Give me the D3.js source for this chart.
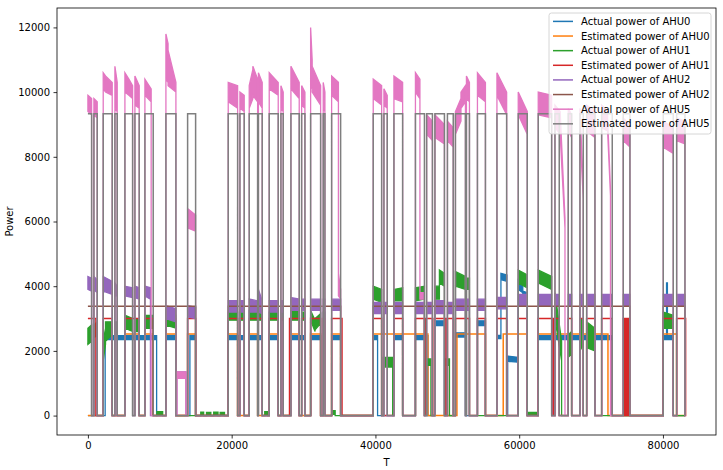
<!DOCTYPE html>
<html><head><meta charset="utf-8">
<script src="https://cdn.jsdelivr.net/npm/d3@7"></script>
<style>body{margin:0;background:#fff}text{font-family:"DejaVu Sans",sans-serif;fill:#000}</style>
</head><body><svg id="c" width="723" height="470"></svg>
<script>
// ---------- data ----------
const xTicks = [0, 20000, 40000, 60000, 80000];
const yTicks = [0, 2000, 4000, 6000, 8000, 10000, 12000];
const seriesNames = ["Actual power of AHU0","Estimated power of AHU0","Actual power of AHU1","Estimated power of AHU1",
  "Actual power of AHU2","Estimated power of AHU2","Actual power of AHU5","Estimated power of AHU5"];
const seriesColors = ["#1f77b4","#ff7f0e","#2ca02c","#d62728","#9467bd","#8c564b","#e377c2","#7f7f7f"];
const tEnd = 83100;

// estimated power levels (when on)
const est0Level = 2520, est1Level = 3000, est2Level = 3380, est5Level = 9330;

// estimated on-intervals [start, end]
const est5On = [[0,515],[835,1294],[2129,3381],[3757,4077],[5148,6219],[6539,7137],[7930,9085],[10852,12243],[13871,14984],
  [19520,20828],[21148,21746],[22442,23610],[23722,24250],[25224,26476],[26852,27172],[28243,29398],[29733,30191],[30984,32375],
  [32737,32974],[33906,35158],[39694,40862],[41182,41642],[42574,43784],[45565,46817],[47123,47930],[48278,49600],[50017,50824],
  [51130,52522],[52661,53078],[54191,55304],[56904,58254],[59868,61120],[62650,64515],[64974,65572],[66824,67297],[68452,68911],
  [69385,70539],[71471,72946],[74476,75408],[80041,81433],[81906,83061]];
const est2On = [[0,14984],[19520,35158],[39694,75408],[80041,83061]];
const est1On = [[0,1113],[2129,3381],[5148,7137],[7930,9085],[10852,12243],[13871,14984],[19520,20828],[21148,21746],[22442,24250],
  [25224,26476],[26852,27172],[28050,29398],[29733,30191],[30984,32375],[32737,32974],[33906,35350],[39694,40862],[42574,43784],
  [45565,46817],[46950,47930],[48200,49800],[50017,50824],[51130,53078],[54191,55304],[56904,58254],[59868,61120],[62600,64580],
  [64620,64660],[64700,64740],[64780,64820],[64860,64900],[64940,64980],[65020,65572],[66824,67297],[68452,68911],[69385,70539],
  [71471,72946],[74476,74520],[74560,74600],[74640,74680],[74720,74760],[74800,74840],[74880,74920],[74960,75000],[75040,75080],
  [75120,75160],[75200,75240],[75280,75320],[75360,75408],[80041,81433],[81906,83150]];
const est0On = [[2129,3381],[5148,7137],[7930,9085],[10852,12243],[13871,14984],[19520,20828],[22442,23610],[25224,26476],
  [28243,29398],[30984,32375],[33906,35158],[39694,47300],[51340,55304],[57780,61120],[62650,72350],[80041,81900]];

// actual power: segments [tStart, tEnd, lowStart, highStart, lowEnd, highEnd] (noise envelope)
const act5 = [[0,515,9400,9900,9300,9800],[835,1294,9300,9800,9200,9700],[2129,2450,10100,10600,10000,10500],
  [2450,3381,10000,10500,9900,10300],[3757,4077,9500,10800,9400,10300],[5148,5700,10000,10600,9900,10400],
  [5700,6219,9900,10400,9800,10200],[6539,7137,9600,10500,9500,10200],[7930,8800,9900,10400,9700,10100],
  [10852,11150,10400,11800,10300,11500],[11150,12243,10200,11300,10000,10300],[12383,13635,1150,1350,1150,1350],
  [13871,14984,5800,6400,5700,6200],[19520,20828,9700,10300,9500,10200],[21148,21746,9500,10000,9400,9900],
  [22442,22950,9500,10200,9800,10700],[22950,23610,9900,10800,9700,10400],[23722,24250,9700,10600,9500,10300],
  [25224,26476,10100,10600,9900,10300],[26852,27172,9500,10200,9400,10000],[28243,29398,10100,10800,9800,10300],
  [29733,30191,9600,10200,9500,10000],[30984,31200,10200,12000,10100,11000],[31200,32375,10000,10800,9600,10200],
  [32737,32974,9500,10300,9400,10000],[33906,34850,9900,10500,9700,10300],[34850,35158,3700,4400,3600,3900],
  [39694,40862,9800,10400,9600,10200],[41182,41642,9600,10100,9500,9900],[42574,43784,9800,10500,9700,10300],
  [45565,46190,10000,10600,9800,10400],[46190,46817,3600,3800,3600,3800],[47123,47930,8700,9300,8500,9100],
  [48278,49600,8600,9300,8400,9000],[50017,50824,8500,9100,8300,8900],[51130,51900,8700,9400,9100,9800],
  [51900,52522,9500,10000,9700,10200],[52661,53078,9800,10500,9700,10300],[54191,55304,9900,10600,9700,10300],
  [56904,58254,9900,10600,9300,10000],[59868,61120,9300,10000,8700,9400],[62650,64515,9300,10000,9200,9900],
  [64974,65700,8900,9600,8700,9400],[65700,66370,8700,9400,5800,6100],[66824,67297,8800,9500,8600,9300],
  [68452,68911,8800,9500,6700,7100],[69385,70539,8800,9600,8600,9400],[71471,72300,8900,9600,8800,9400],
  [72300,72700,8800,9200,6800,7000],[74476,75408,8500,9200,8300,9000],[80041,81433,8300,9100,8100,8900],
  [81906,83061,8500,9200,8400,9100]];
const act2 = [[0,515,3900,4300,3850,4250],[835,1294,3900,4300,3800,4200],[2129,3381,3850,4300,3750,4150],
  [3757,4077,3700,4100,3700,4000],[5148,6219,3700,4000,3650,3950],[6539,7137,3650,4000,3600,3950],
  [7930,8700,3700,4000,3600,3950],[10852,12243,3000,3400,2900,3300],[12383,13635,1150,1350,1150,1350],
  [13871,14984,3050,3400,3000,3350],[19520,20828,3200,3550,3200,3550],[21148,21746,3200,3550,3200,3550],
  [22442,23610,3200,3600,3200,3550],[23722,24250,3200,3900,3150,3550],[25224,26476,3200,3550,3200,3550],
  [26852,27172,3200,3550,3200,3550],[28243,29398,3250,3650,3250,3600],[29733,30191,3250,3600,3250,3600],
  [30984,32375,3250,3600,3250,3600],[32737,32974,3250,3600,3250,3600],[33906,35158,3250,3600,3250,3600],
  [39694,40862,3150,3500,3150,3500],[41182,41642,3150,3500,3150,3500],[42574,43784,3150,3500,3150,3500],
  [45565,46817,3150,3500,3150,3500],[47123,47930,3150,3500,3150,3500],[48278,49600,3150,3550,3150,3550],
  [50017,50824,3150,3500,3150,3500],[51130,52522,3250,3600,3250,3600],[52661,53078,3250,3600,3250,3600],
  [54191,55304,3250,3600,3250,3600],[56904,58254,3300,3650,3300,3650],[59868,61120,3400,3750,3400,3750],
  [62650,64515,3400,3750,3400,3750],[64974,65572,3400,3750,3400,3750],[66824,67297,3400,3750,3400,3750],
  [68452,68911,3400,3750,3400,3750],[69385,70539,3400,3750,3400,3750],[71471,72946,3400,3750,3400,3750],
  [74476,75408,3400,3750,3400,3750],[80041,81433,3400,3750,3400,3750],[81906,83061,3400,3750,3400,3750]];
const act1 = [[0,515,2200,2700,2300,2800],[835,1294,2400,2800,2500,2900],[2129,2450,1700,2300,2200,2700],
  [2450,3381,2300,2900,2500,2900],[3757,4077,2500,2900,2500,2900],[5148,6219,2700,3100,2600,3000],
  [6539,7137,2600,3000,2600,3000],[7930,9085,2700,3100,2700,3100],[9600,10400,40,120,40,120],
  [10852,12243,2800,3200,2700,3100],[15700,16100,30,110,30,110],[16500,17100,30,100,30,100],
  [17500,18100,30,110,30,110],[18400,19000,30,100,30,100],[19520,20828,2950,3200,2950,3200],
  [21148,21746,2950,3200,2950,3200],[22442,23610,2950,3250,2950,3250],[23722,24250,2950,3250,2950,3250],
  [24600,25000,40,120,40,120],[25224,26476,2950,3200,2950,3200],[26852,27172,2950,3200,2950,3200],
  [28243,29398,2950,3250,2950,3250],[29733,30191,2950,3200,2950,3200],[30984,31600,2950,3250,2600,2950],
  [31600,32375,2650,3000,2850,3150],[32737,32974,2950,3200,2950,3200],[33906,34400,40,150,40,150],
  [39694,40862,3600,4000,3500,3900],[41100,42400,1500,1800,1500,1800],[42574,43784,3550,3900,3550,3950],
  [45565,46817,3550,3950,3600,4000],[47160,47720,1550,1750,1550,1750],[48278,48900,3600,4000,3600,4000],
  [48900,49600,4100,4500,4000,4400],[49700,50300,1550,1750,1550,1750],[51130,52522,4000,4450,3900,4300],
  [52661,53078,3900,4250,3900,4250],[59868,61120,4100,4500,3950,4350],[61200,62500,20,100,20,100],
  [62650,64515,4100,4500,3900,4300],[64974,65900,3000,3800,1700,2300],[66824,67297,1800,2500,1900,2600],
  [68452,68911,2000,3000,2200,3000],[69385,70539,2100,2900,2000,2700],[80041,81433,2700,3200,2700,3100]];
const act0 = [[2400,9560,2350,2470,2350,2470],[10852,12243,2350,2480,2350,2480],[14190,14984,2350,2480,2350,2480],
  [19520,21746,2350,2470,2350,2470],[22442,24250,2350,2470,2350,2470],[25224,26476,2350,2470,2350,2470],
  [28243,30191,2350,2470,2350,2470],[30984,32375,2350,2470,2350,2470],[33906,35158,2350,2470,2350,2470],
  [39694,40300,2350,2470,2350,2470],[42574,43784,2350,2470,2350,2470],[45565,47300,2350,2470,2350,2470],
  [48278,49600,2780,2930,2780,2930],[51130,52522,2430,2560,2430,2560],[54191,55304,2780,2930,2780,2930],
  [56904,57460,2380,2480,2380,2480],[57460,58300,4200,4400,4150,4350],[58400,59800,1680,1840,1650,1800],
  [59868,60500,3900,4200,3800,4100],[60500,61120,3600,3850,3550,3800],[62650,72946,2350,2470,2350,2470],
  [80041,80500,2350,2470,2350,2470],[80500,80620,3700,4100,3700,4100],[80620,81433,2350,2470,2350,2470]];

// ---------- layout ----------
const svg = d3.select("#c");
const L = 57, R = 716, T = 8, B = 435;
const x = d3.scaleLinear().domain([-4300, 87380]).range([L, R]);
const y = d3.scaleLinear().domain([-600, 12600]).range([B, T]);

svg.append("defs").append("clipPath").attr("id","clip").append("rect")
  .attr("x", L).attr("y", T).attr("width", R - L).attr("height", B - T);

function buildEst(intervals, level) {
  const pts = [];
  intervals.forEach(([a, b], i) => {
    if (i === 0 && a > 0) pts.push([0, 0]);
    if (a > 0) pts.push([a, 0]);
    pts.push([a, level]); pts.push([b, level]); pts.push([b, 0]);
  });
  pts.push([tEnd, 0]);
  return pts;
}
function buildAct(segs) {
  const pts = []; let prev = null;
  segs.forEach(([t0, t1, l0, h0, l1, h1]) => {
    if (prev === null) { if (t0 > 0) { pts.push([0, 0, 0]); pts.push([t0, 0, 0]); } }
    else if (t0 !== prev) { pts.push([prev, 0, 0]); pts.push([t0, 0, 0]); }
    pts.push([t0, l0, h0]); pts.push([t1, l1, h1]); prev = t1;
  });
  pts.push([prev, 0, 0]); pts.push([tEnd, 0, 0]);
  return pts;
}

const plot = svg.append("g").attr("clip-path", "url(#clip)");
const line = d3.line().x(d => x(d[0])).y(d => y(d[1]));
const area = d3.area().x(d => x(d[0])).y0(d => y(d[1])).y1(d => y(d[2]));

const layers = [
  {type: "act", data: act0}, {type: "est", data: est0On, level: est0Level},
  {type: "act", data: act1}, {type: "est", data: est1On, level: est1Level},
  {type: "act", data: act2}, {type: "est", data: est2On, level: est2Level},
  {type: "act", data: act5}, {type: "est", data: est5On, level: est5Level}
];
layers.forEach((ly, i) => {
  const c = seriesColors[i];
  if (ly.type === "act") {
    plot.append("path").attr("d", area(buildAct(ly.data)))
      .attr("fill", c).attr("stroke", c).attr("stroke-width", 1.3).attr("stroke-linejoin", "miter");
  } else {
    plot.append("path").attr("d", line(buildEst(ly.data, ly.level)))
      .attr("fill", "none").attr("stroke", c).attr("stroke-width", 1.5);
  }
});

// axes
const xAxis = svg.append("g").attr("transform", `translate(0,${B})`)
  .call(d3.axisBottom(x).tickValues(xTicks).tickFormat(d3.format("d")).tickSize(3.5).tickPadding(3.5));
const yAxis = svg.append("g").attr("transform", `translate(${L},0)`)
  .call(d3.axisLeft(y).tickValues(yTicks).tickFormat(d3.format("d")).tickSize(3.5).tickPadding(3.5));
[xAxis, yAxis].forEach(g => {
  g.select(".domain").remove();
  g.selectAll("line").attr("stroke", "#000").attr("stroke-width", 0.8);
  g.selectAll("text").attr("font-size", 10).attr("font-family", "DejaVu Sans").attr("fill", "#000");
});
svg.append("rect").attr("x", L).attr("y", T).attr("width", R - L).attr("height", B - T)
  .attr("fill", "none").attr("stroke", "#000").attr("stroke-width", 0.8);

svg.append("text").attr("x", (L + R) / 2).attr("y", 466).attr("text-anchor", "middle")
  .attr("font-size", 10).text("T");
svg.append("text").attr("transform", `translate(13,${(T + B) / 2}) rotate(-90)`)
  .attr("text-anchor", "middle").attr("font-size", 10).text("Power");

// legend
const lg = svg.append("g");
lg.append("rect").attr("x", 549).attr("y", 13).attr("width", 162).attr("height", 121).attr("rx", 2.5)
  .attr("fill", "rgba(255,255,255,0.8)").attr("stroke", "#cccccc").attr("stroke-width", 0.8);
seriesNames.forEach((n, i) => {
  const cy = 21.4 + i * 14.63;
  lg.append("line").attr("x1", 553).attr("x2", 573).attr("y1", cy).attr("y2", cy)
    .attr("stroke", seriesColors[i]).attr("stroke-width", 1.5);
  lg.append("text").attr("x", 581).attr("y", cy).attr("dy", "0.35em").attr("font-size", 10).text(n);
});
</script></body></html>
